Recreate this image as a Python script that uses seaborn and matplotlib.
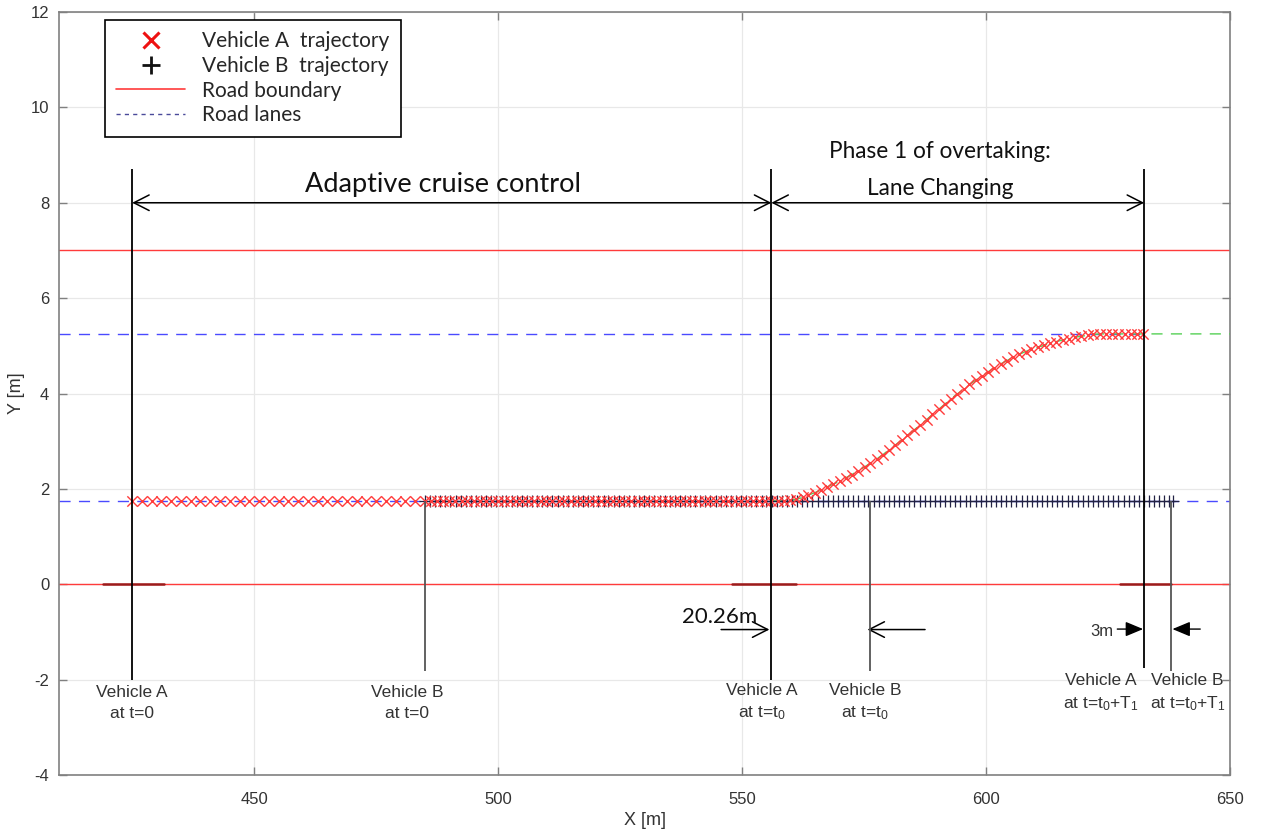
import matplotlib
matplotlib.use("Agg")
import matplotlib.pyplot as plt
import seaborn as sns
import pandas as pd
from matplotlib.lines import Line2D

# ---------------- data ----------------
# Vehicle A positions during adaptive cruise control (y = 1.75 m)
a_x_acc = [425, 427, 429, 431, 433, 435, 437, 439, 441, 443, 445, 447, 449, 451, 453,
           455, 457, 459, 461, 463, 465, 467, 469, 471, 473, 475, 477, 479, 481, 483, 485,
           486.2, 487.5, 488.7, 490.0, 491.2, 492.5, 493.7, 495.0, 496.2, 497.5, 498.7,
           499.9, 501.2, 502.4, 503.7, 504.9, 506.2, 507.4, 508.7, 509.9, 511.1, 512.4,
           513.6, 514.9, 516.1, 517.4, 518.6, 519.9, 521.1, 522.3, 523.6, 524.8, 526.1,
           527.3, 528.6, 529.8, 531.1, 532.3, 533.5, 534.8, 536.0, 537.3, 538.5, 539.8,
           541.0, 542.3, 543.5, 544.7, 546.0, 547.2, 548.5, 549.7, 551.0, 552.2, 553.5, 554.7]
# Vehicle A positions during the lane change
a_x_lc = [556.0, 557.3, 558.5, 559.8, 561.1, 562.4, 563.6, 564.9, 566.2, 567.4, 568.7,
          570.0, 571.2, 572.5, 573.8, 575.1, 576.3, 577.6, 578.9, 580.1, 581.4, 582.7,
          583.9, 585.2, 586.5, 587.8, 589.0, 590.3, 591.6, 592.8, 594.1, 595.4, 596.6,
          597.9, 599.2, 600.5, 601.7, 603.0, 604.3, 605.5, 606.8, 608.1, 609.3, 610.6,
          611.9, 613.2, 614.4, 615.7, 617.0, 618.2, 619.5, 620.8, 622.0, 623.3, 624.6,
          625.9, 627.1, 628.4, 629.7, 630.9, 632.2]
a_y_lc = [1.75, 1.75, 1.75, 1.76, 1.78, 1.82, 1.87, 1.92, 1.98, 2.04, 2.10,
          2.16, 2.23, 2.30, 2.38, 2.46, 2.54, 2.63, 2.72, 2.82, 2.92, 3.02,
          3.12, 3.23, 3.34, 3.45, 3.56, 3.67, 3.78, 3.89, 3.99, 4.09, 4.19,
          4.28, 4.37, 4.46, 4.54, 4.62, 4.69, 4.76, 4.82, 4.88, 4.93, 4.97,
          5.01, 5.05, 5.09, 5.12, 5.15, 5.18, 5.20, 5.22, 5.24, 5.25, 5.25,
          5.25, 5.25, 5.25, 5.25, 5.25, 5.25]
# Vehicle B positions (y = 1.75 m)
b_x = [485.0, 486.0, 487.1, 488.1, 489.2, 490.2, 491.3, 492.3, 493.4, 494.4, 495.5,
       496.5, 497.5, 498.6, 499.6, 500.7, 501.7, 502.8, 503.8, 504.9, 505.9, 506.9,
       508.0, 509.0, 510.1, 511.1, 512.2, 513.2, 514.3, 515.3, 516.4, 517.4, 518.4,
       519.5, 520.5, 521.6, 522.6, 523.7, 524.7, 525.8, 526.8, 527.8, 528.9, 529.9,
       531.0, 532.0, 533.1, 534.1, 535.2, 536.2, 537.3, 538.3, 539.3, 540.4, 541.4,
       542.5, 543.5, 544.6, 545.6, 546.7, 547.7, 548.7, 549.8, 550.8, 551.9, 552.9,
       554.0, 555.0, 556.1, 557.1, 558.2, 559.2, 560.2, 561.3, 562.3, 563.4, 564.4,
       565.5, 566.5, 567.6, 568.6, 569.6, 570.7, 571.7, 572.8, 573.8, 574.9, 575.9,
       577.0, 578.0, 579.1, 580.1, 581.1, 582.2, 583.2, 584.3, 585.3, 586.4, 587.4,
       588.5, 589.5, 590.5, 591.6, 592.6, 593.7, 594.7, 595.8, 596.8, 597.9, 598.9,
       600.0, 601.0, 602.0, 603.1, 604.1, 605.2, 606.2, 607.3, 608.3, 609.4, 610.4,
       611.4, 612.5, 613.5, 614.6, 615.6, 616.7, 617.7, 618.8, 619.8, 620.9, 621.9,
       622.9, 624.0, 625.0, 626.1, 627.1, 628.2, 629.2, 630.3, 631.3, 632.3, 633.4,
       634.4, 635.5, 636.5, 637.6, 638.3]
lane_y_initial = 1.75
lane_y_target = 5.25
road_boundary_y = [0, 7]
road_lanes_y = [1.75, 5.25]
x_range = [410, 650]
y_range = [-4, 12]
x_ticks = [450, 500, 550, 600, 650]
y_ticks = [-4, -2, 0, 2, 4, 6, 8, 10, 12]

# event positions (vehicle A / vehicle B at t=0, t0, t0+T1)
veh_a_event_x = [425, 556, 632.4]
veh_b_event_x = [485, 576.3, 637.9]
veh_a_labels = ["Vehicle A\nat t=0", "Vehicle A\nat t=t$_0$", "Vehicle A\nat t=t$_0$+T$_1$"]
veh_b_labels = ["Vehicle B\nat t=0", "Vehicle B\nat t=t$_0$", "Vehicle B\nat t=t$_0$+T$_1$"]
vehicle_bodies = [(419, 431.5), (548, 561), (627.5, 638)]
gap_t0 = "20.26m"
gap_t1 = "3m"

# ---------------- style ----------------
sns.set_theme(style="whitegrid")
plt.rcParams["font.family"] = ["Liberation Sans", "DejaVu Sans"]
plt.rcParams["axes.unicode_minus"] = False
plt.rcParams["mathtext.fontset"] = "custom"
plt.rcParams["mathtext.rm"] = "Liberation Sans"
plt.rcParams["mathtext.it"] = "Liberation Sans"
plt.rcParams["mathtext.default"] = "regular"

W, H = 1265, 834
fig = plt.figure(figsize=(W / 100, H / 100), dpi=100)
ax = fig.add_axes([59 / W, 1 - 775 / H, (1230 - 59) / W, (775 - 12) / H])

RED = "#ff3b3b"
BLUE = "#4a4aff"
GREEN = "#55d055"

# road boundaries
for yb in road_boundary_y:
    sns.lineplot(x=x_range, y=[yb, yb], ax=ax, color=RED, lw=1.0, zorder=2)
# vehicle bodies on the lower boundary
for (x0, x1) in vehicle_bodies:
    sns.lineplot(x=[x0, x1], y=[0, 0], ax=ax, color="#9b1c1c", lw=1.8, zorder=2)

# road lanes
sns.lineplot(x=x_range, y=[road_lanes_y[0]] * 2, ax=ax, color=BLUE, lw=1.0,
             zorder=2).lines[-1].set_dashes([8, 6])
sns.lineplot(x=[x_range[0], veh_a_event_x[2]], y=[road_lanes_y[1]] * 2, ax=ax, color=BLUE,
             lw=1.0, zorder=2).lines[-1].set_dashes([8, 6])
# reference path (green dashed)
ref = pd.DataFrame({"x": a_x_lc + [x_range[1]], "y": a_y_lc + [lane_y_target]})
sns.lineplot(data=ref, x="x", y="y", ax=ax, color=GREEN, lw=1.0, sort=False,
             zorder=3).lines[-1].set_dashes([8, 6])

# trajectories
traj_b = pd.DataFrame({"x": b_x, "y": [lane_y_initial] * len(b_x)})
sns.scatterplot(data=traj_b, x="x", y="y", ax=ax, marker="+", s=80, color="#222244",
                linewidth=0.9, zorder=4)
traj_a = pd.DataFrame({"x": a_x_acc + a_x_lc,
                       "y": [lane_y_initial] * len(a_x_acc) + a_y_lc})
sns.scatterplot(data=traj_a, x="x", y="y", ax=ax, marker="x", s=55, color=RED,
                linewidth=1.0, zorder=5)

# vertical event lines
ax.vlines(veh_a_event_x[:2], -2.0, 8.7, color="black", lw=1.3, zorder=6)
ax.vlines(veh_a_event_x[2], -1.76, 8.7, color="black", lw=1.3, zorder=6)
ax.vlines(veh_b_event_x, -1.82, 1.75, color="#555555", lw=1.3, zorder=6)

# phase arrows
arrow_kw = dict(arrowstyle="<->,head_length=0.55,head_width=0.28", color="black", lw=1.1,
                shrinkA=0, shrinkB=0, mutation_scale=20)
ax.annotate("", xy=(veh_a_event_x[1], 8.0), xytext=(veh_a_event_x[0], 8.0), arrowprops=arrow_kw)
ax.annotate("", xy=(veh_a_event_x[2], 8.0), xytext=(veh_a_event_x[1], 8.0), arrowprops=arrow_kw)

CAL = ["Lato", "DejaVu Sans"]
ax.text(488.7, 8.39, "Adaptive cruise control", fontsize=19.5, family=CAL, color="#111111",
        ha="center", va="center")
ax.text(590.5, 9.08, "Phase 1 of overtaking:", fontsize=16.3, family=CAL, color="#111111",
        ha="center", va="center")
ax.text(590.5, 8.3, "Lane Changing", fontsize=16.3, family=CAL, color="#111111",
        ha="center", va="center")

# gap annotations
open_kw = dict(arrowstyle="->,head_length=0.55,head_width=0.28", color="black", lw=1.1,
               shrinkA=0, shrinkB=0, mutation_scale=20)
ax.annotate("", xy=(veh_a_event_x[1] - 0.4, -0.95), xytext=(545.7, -0.95), arrowprops=open_kw)
ax.annotate("", xy=(veh_b_event_x[1] - 0.6, -0.95), xytext=(587.5, -0.95), arrowprops=open_kw)
ax.text(545.3, -0.68, gap_t0, fontsize=16, family=CAL, color="#111111", ha="center", va="center")

fill_kw = dict(arrowstyle="-|>,head_length=0.6,head_width=0.25", color="black", lw=1.0,
               shrinkA=0, shrinkB=0, mutation_scale=18)
ax.annotate("", xy=(veh_a_event_x[2] - 0.2, -0.94), xytext=(626.9, -0.94), arrowprops=fill_kw)
ax.annotate("", xy=(veh_b_event_x[2] + 0.3, -0.94), xytext=(643.9, -0.94), arrowprops=fill_kw)
ax.text(623.8, -1.0, gap_t1, fontsize=12, color="#333333", ha="center", va="center")

# vehicle labels
label_pos_a = [(425.0, -2.5), (554.1, -2.48), (623.5, -2.28)]
label_pos_b = [(481.4, -2.5), (575.2, -2.48), (641.3, -2.28)]
for (lx, ly), txt in zip(label_pos_a, veh_a_labels):
    ax.text(lx, ly, txt, fontsize=12.5, color="#333333", ha="center", va="center",
            linespacing=1.5)
for (lx, ly), txt in zip(label_pos_b, veh_b_labels):
    ax.text(lx, ly, txt, fontsize=12.5, color="#333333", ha="center", va="center",
            linespacing=1.5)

# axes styling (MATLAB-like)
ax.set_xlim(x_range)
ax.set_ylim(y_range)
ax.set_xticks(x_ticks)
ax.set_yticks(y_ticks)
ax.grid(True, color="#e8e8e8", lw=0.9)
ax.set_facecolor("white")
for sp in ax.spines.values():
    sp.set_color("#808080")
    sp.set_linewidth(1.2)
    sp.set_visible(True)
ax.tick_params(direction="in", length=6, width=1, colors="#808080", labelcolor="#333333",
               labelsize=12, top=True, right=True, bottom=True, left=True)
ax.tick_params(axis="x", pad=12)
ax.tick_params(axis="y", pad=7)
ax.set_xlabel("X [m]", fontsize=13, color="#333333", labelpad=4)
ax.set_ylabel("Y [m]", fontsize=13, color="#333333", labelpad=4)

# legend
handles = [
    Line2D([], [], ls="none", marker="x", color="#ee1111", ms=11, mew=2.2),
    Line2D([], [], ls="none", marker="+", color="#111111", ms=13, mew=2.0),
    Line2D([], [], color=RED, lw=1.2),
    Line2D([], [], color="#4a4a9a", lw=1.0, dashes=[3, 3]),
]
labels = ["Vehicle A  trajectory", "Vehicle B  trajectory", "Road boundary", "Road lanes"]
leg = ax.legend(handles, labels, loc="upper left", bbox_to_anchor=(0.0393, 0.9895),
                prop={"family": "Lato", "size": 15}, frameon=True, fancybox=False,
                edgecolor="black", framealpha=1, borderpad=0.55, labelspacing=0.22,
                handlelength=3.3, handletextpad=0.8, borderaxespad=0)
leg.get_frame().set_linewidth(1.2)

fig.savefig("out.png", dpi=100)
